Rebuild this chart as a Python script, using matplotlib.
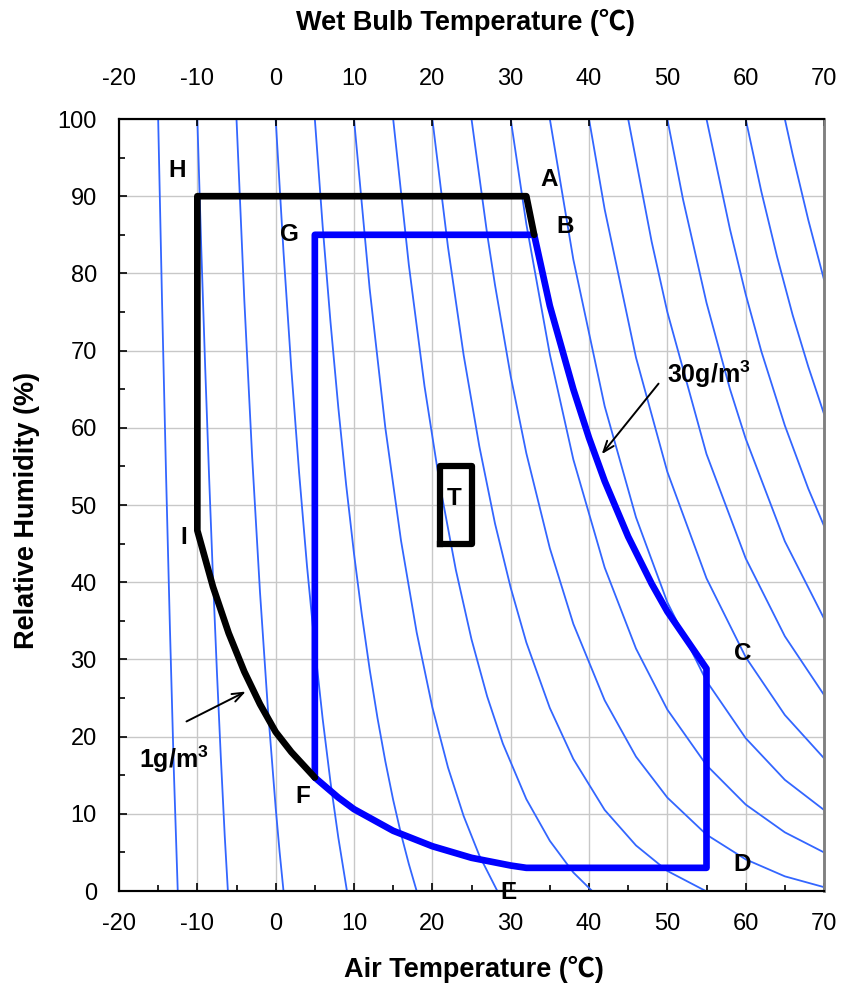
import matplotlib.pyplot as plt
from matplotlib.ticker import MultipleLocator

plt.rcParams['font.family'] = ['Liberation Sans', 'Noto Sans CJK JP', 'DejaVu Sans']
plt.rcParams['axes.unicode_minus'] = False
plt.rcParams['mathtext.fontset'] = 'custom'
plt.rcParams['mathtext.bf'] = 'Liberation Sans:bold'
plt.rcParams['mathtext.rm'] = 'Liberation Sans:bold'

# Lineas de bulbo humedo: temperatura del aire (C) y humedad relativa (%)
wb_m15_t = [-15, -14.5, -14, -13.5, -13, -12.5]
wb_m15_rh = [100, 76.1, 54.2, 34.1, 15.6, 0]
wb_m10_t = [-10, -9.5, -9, -8.5, -8, -7.5, -7, -6.5, -6.1]
wb_m10_rh = [100, 83.3, 67.9, 53.7, 40.5, 28.4, 17.3, 7.1, 0]
wb_m5_t = [-5, -4, -3, -2, -1, 0, 0.5, 1.0]
wb_m5_rh = [100, 76.5, 56.2, 38.7, 23.7, 10.8, 5.1, 0]
wb_0_t = [0, 1, 2, 3, 4, 5, 6, 7, 8, 9.1]
wb_0_rh = [100, 82.8, 67.6, 54.1, 42.1, 31.6, 22.3, 14.1, 6.9, 0]
wb_5_t = [5, 6, 7, 8, 9, 10, 11, 12, 13, 14, 15, 16, 17, 18]
wb_5_rh = [100, 86.1, 73.7, 62.6, 52.6, 43.7, 35.8, 28.7, 22.4, 16.8, 11.8, 7.4, 3.5, 0]
wb_10_t = [10, 12, 14, 16, 18, 20, 22, 24, 26, 28.3]
wb_10_rh = [100, 78.0, 60.0, 45.4, 33.5, 23.8, 16.0, 9.7, 4.6, 0]
wb_15_t = [15, 17, 19, 21, 23, 25, 27, 29, 32, 35, 38, 40.4]
wb_15_rh = [100, 81.1, 65.4, 52.4, 41.6, 32.6, 25.2, 19.1, 11.9, 6.5, 2.4, 0]
wb_20_t = [20, 22, 24, 26, 28, 30, 32, 35, 38, 42, 46, 50, 54.9]
wb_20_rh = [100, 83.4, 69.4, 57.6, 47.6, 39.3, 32.2, 23.7, 17.1, 10.5, 5.9, 2.6, 0]
wb_25_t = [25, 27, 28, 30, 32, 35, 38, 42, 46, 50, 55, 60, 65, 70]
wb_25_rh = [100, 85.1, 78.5, 66.7, 56.7, 44.4, 34.6, 24.7, 17.4, 12.1, 7.3, 4.1, 1.9, 0.5]
wb_30_t = [30, 32, 35, 38, 42, 46, 50, 55, 60, 65, 70]
wb_30_rh = [100, 86.4, 69.5, 55.9, 41.9, 31.4, 23.5, 16.3, 11.2, 7.6, 5.0]
wb_35_t = [35, 38, 42, 46, 50, 55, 60, 65, 70]
wb_35_rh = [100, 81.8, 62.8, 48.4, 37.4, 27.2, 19.8, 14.4, 10.5]
wb_40_t = [40, 42, 46, 50, 55, 60, 65, 70]
wb_40_rh = [100, 88.3, 69.1, 54.3, 40.5, 30.3, 22.8, 17.2]
wb_45_t = [45, 48, 50, 55, 60, 65, 70]
wb_45_rh = [100, 84.1, 75.0, 56.6, 43.1, 33.0, 25.4]
wb_50_t = [50, 52, 55, 58, 60, 65, 70]
wb_50_rh = [100, 89.6, 76.2, 65.0, 58.6, 45.3, 35.3]
wb_55_t = [55, 58, 60, 62, 65, 68, 70]
wb_55_rh = [100, 85.7, 77.3, 69.9, 60.3, 52.1, 47.3]
wb_60_t = [60, 62, 64, 66, 68, 70]
wb_60_rh = [100, 90.6, 82.2, 74.6, 67.9, 61.8]
wb_65_t = [65, 66, 68, 70]
wb_65_rh = [100, 95.4, 86.9, 79.2]

wet_bulb_lines = [
    (wb_m15_t, wb_m15_rh), (wb_m10_t, wb_m10_rh), (wb_m5_t, wb_m5_rh),
    (wb_0_t, wb_0_rh), (wb_5_t, wb_5_rh), (wb_10_t, wb_10_rh),
    (wb_15_t, wb_15_rh), (wb_20_t, wb_20_rh), (wb_25_t, wb_25_rh),
    (wb_30_t, wb_30_rh), (wb_35_t, wb_35_rh), (wb_40_t, wb_40_rh),
    (wb_45_t, wb_45_rh), (wb_50_t, wb_50_rh), (wb_55_t, wb_55_rh),
    (wb_60_t, wb_60_rh), (wb_65_t, wb_65_rh),
]

# Contorno negro B-A-H-I-F (tramo I-F sobre la curva de 1 g/m3)
black_t = [33, 32, -10, -10, -8, -6, -4, -2, 0, 2, 5]
black_rh = [85, 90, 90, 46.7, 39.4, 33.4, 28.4, 24.2, 20.6, 18.0, 14.7]

# Contorno azul F-G-B-C-D-E-F (curvas de 30 g/m3 y 1 g/m3)
blue_t = [5, 5, 33, 35, 38, 40, 42, 45, 48, 50, 55, 55, 32, 30, 25, 20, 15, 10, 8, 5]
blue_rh = [14.7, 85, 85, 75.8, 65.0, 58.7, 53.1, 45.9, 39.8, 36.2, 28.8, 3, 3, 3.3, 4.3, 5.8, 7.8,
           10.6, 12.1, 14.7]

# Caja T
box_t = [21, 25, 25, 21, 21]
box_rh = [45, 45, 55, 55, 45]

# Etiquetas de los puntos
point_names = ['A', 'B', 'C', 'D', 'E', 'F', 'G', 'H', 'I', 'T']
point_t = [34.9, 36.9, 59.6, 59.6, 29.7, 3.5, 1.7, -12.6, -11.7, 22.8]
point_rh = [92.1, 86.1, 30.8, 3.4, -0.2, 12.2, 85.0, 93.3, 45.8, 50.9]

W, H = 844, 992
fig = plt.figure(figsize=(W / 100, H / 100), dpi=100)
ax = fig.add_axes([119 / W, 1 - 891 / H, 705 / W, 772 / H])

for t, rh in wet_bulb_lines:
    ax.plot(t, rh, color='#3366ff', lw=1.3, zorder=2)

ax.plot(blue_t, blue_rh, color='#0000ff', lw=4.8, zorder=4,
        solid_joinstyle='round', solid_capstyle='round')
ax.plot(black_t, black_rh, color='black', lw=4.8, zorder=5,
        solid_joinstyle='round', solid_capstyle='round')
ax.plot(box_t, box_rh, color='black', lw=4.5, zorder=5, solid_joinstyle='round')

for name, t, rh in zip(point_names, point_t, point_rh):
    ax.text(t, rh, name, ha='center', va='center', fontsize=17.5, fontweight='bold',
            zorder=6, clip_on=False)

ax.text(-17.4, 15.9, r'1g/m$^\mathbf{3}$', fontsize=18, fontweight='bold', zorder=6)
ax.text(49.9, 65.8, r'30g/m$^\mathbf{3}$', fontsize=18, fontweight='bold', zorder=6)
arrow_style = dict(arrowstyle='->,head_length=0.8,head_width=0.3', color='black', lw=1.4)
ax.annotate('', xy=(-3.5, 26.0), xytext=(-11.7, 21.8), zorder=6, arrowprops=arrow_style)
ax.annotate('', xy=(41.4, 56.3), xytext=(49.1, 66.0), zorder=6, arrowprops=arrow_style)

ax.set_xlim(-20, 70)
ax.set_ylim(0, 100)
ax.xaxis.set_major_locator(MultipleLocator(10))
ax.xaxis.set_minor_locator(MultipleLocator(5))
ax.yaxis.set_major_locator(MultipleLocator(10))
ax.yaxis.set_minor_locator(MultipleLocator(5))
ax.grid(True, which='major', color='#c8c8c8', lw=1.0)
ax.set_axisbelow(True)
ax.tick_params(which='both', direction='in', top=False, right=False, width=1.2, colors='black')
ax.tick_params(which='major', length=6, labelsize=17, pad=16)
ax.tick_params(which='minor', length=4.5)

# Eje superior (temperatura de bulbo humedo)
ax2 = ax.twiny()
ax2.set_xlim(-20, 70)
ax2.xaxis.set_major_locator(MultipleLocator(10))
ax2.tick_params(direction='in', length=5, width=1.2, labelsize=17, pad=21)

for a in (ax, ax2):
    for side in ('left', 'bottom', 'top'):
        a.spines[side].set_color('black')
        a.spines[side].set_linewidth(1.5)
    a.spines['right'].set_color('#808080')
    a.spines['right'].set_linewidth(1.8)

fig.text(466 / W, 1 - 22 / H, 'Wet Bulb Temperature (℃)', ha='center', va='center',
         fontsize=19.5, fontweight='bold')
fig.text(474 / W, 1 - 969 / H, 'Air Temperature (℃)', ha='center', va='center',
         fontsize=19.5, fontweight='bold')
fig.text(27 / W, 1 - 510 / H, 'Relative Humidity (%)', ha='center', va='center',
         rotation=90, fontsize=19.5, fontweight='bold')

fig.savefig('out.png', dpi=100)
